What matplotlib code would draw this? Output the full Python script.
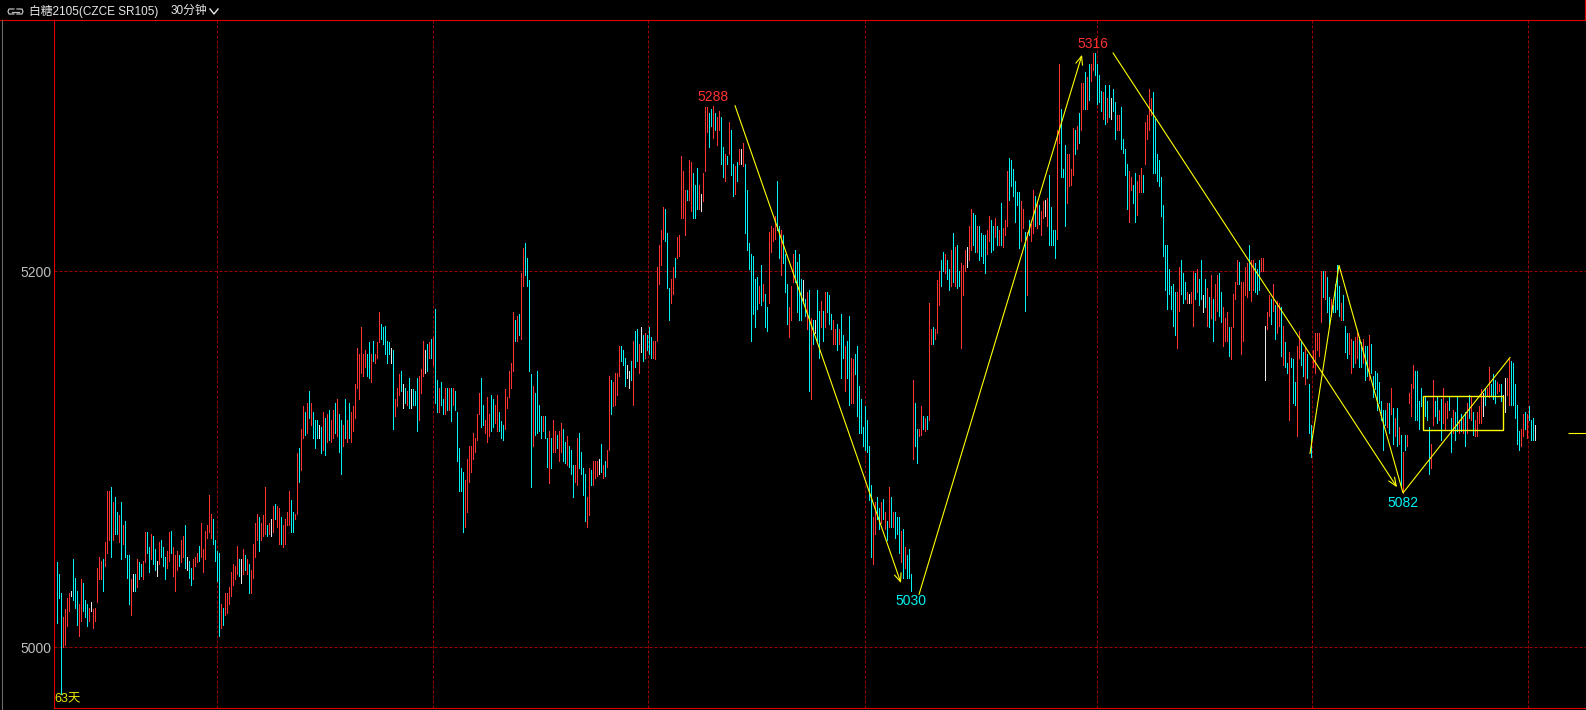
import matplotlib
matplotlib.use("Agg")
import matplotlib.pyplot as plt
from matplotlib.lines import Line2D
from matplotlib.patches import Rectangle

# ---- data: 30-minute bars of SR105 ----
high = [
    5045, 5039, 5029, 5016, 5020, 5026, 5029, 5030, 5047, 5037, 5030, 5023, 5036, 5034, 5025, 5023, 5021, 5024, 5020, 5021,
    5042, 5048, 5046, 5047, 5056, 5083, 5083, 5085, 5077, 5080, 5072, 5070, 5077, 5065, 5067, 5049, 5049, 5036, 5039, 5039,
    5047, 5045, 5044, 5046, 5061, 5061, 5053, 5060, 5059, 5052, 5046, 5056, 5057, 5053, 5048, 5051, 5061, 5062, 5053, 5049,
    5051, 5049, 5057, 5059, 5065, 5048, 5046, 5042, 5047, 5048, 5050, 5054, 5066, 5052, 5062, 5065, 5081, 5071, 5068, 5057,
    5051, 5050, 5023, 5021, 5029, 5029, 5032, 5040, 5044, 5043, 5054, 5047, 5047, 5052, 5049, 5047, 5044, 5041, 5055, 5066,
    5071, 5069, 5066, 5070, 5085, 5065, 5066, 5068, 5075, 5076, 5075, 5074, 5069, 5065, 5068, 5072, 5083, 5078, 5072, 5071,
    5103, 5106, 5116, 5128, 5125, 5130, 5136, 5130, 5125, 5121, 5121, 5118, 5117, 5125, 5122, 5124, 5126, 5121, 5126, 5130,
    5132, 5124, 5121, 5118, 5132, 5121, 5130, 5125, 5128, 5140, 5159, 5156, 5170, 5156, 5158, 5156, 5162, 5156, 5163, 5156,
    5162, 5178, 5172, 5170, 5171, 5163, 5162, 5159, 5158, 5132, 5138, 5145, 5147, 5140, 5138, 5136, 5143, 5137, 5137, 5136,
    5143, 5144, 5148, 5163, 5158, 5161, 5162, 5164, 5165, 5180, 5142, 5138, 5141, 5132, 5138, 5138, 5138, 5138, 5138, 5136,
    5125, 5106, 5095, 5093, 5089, 5100, 5107, 5107, 5114, 5111, 5124, 5135, 5143, 5129, 5121, 5133, 5124, 5134, 5132, 5129,
    5134, 5125, 5120, 5118, 5137, 5133, 5147, 5151, 5178, 5174, 5176, 5177, 5199, 5212, 5215, 5207, 5195, 5145, 5139, 5135,
    5147, 5129, 5123, 5123, 5123, 5111, 5115, 5111, 5121, 5115, 5113, 5115, 5119, 5116, 5109, 5112, 5107, 5105, 5097, 5097,
    5111, 5114, 5104, 5095, 5092, 5080, 5095, 5094, 5099, 5099, 5099, 5100, 5108, 5097, 5099, 5105, 5144, 5142, 5141, 5146,
    5146, 5160, 5160, 5158, 5154, 5150, 5147, 5152, 5163, 5168, 5169, 5161, 5170, 5166, 5167, 5166, 5170, 5165, 5163, 5163,
    5202, 5214, 5222, 5234, 5233, 5220, 5191, 5196, 5202, 5207, 5218, 5219, 5261, 5253, 5243, 5243, 5259, 5258, 5252, 5246,
    5255, 5246, 5241, 5252, 5287, 5287, 5284, 5286, 5288, 5284, 5282, 5285, 5282, 5266, 5262, 5261, 5279, 5275, 5257, 5256,
    5258, 5265, 5265, 5268, 5257, 5243, 5215, 5209, 5208, 5196, 5197, 5192, 5203, 5193, 5188, 5181, 5221, 5224, 5223, 5229,
    5248, 5224, 5222, 5219, 5209, 5193, 5181, 5192, 5209, 5211, 5205, 5209, 5196, 5195, 5185, 5189, 5190, 5175, 5174, 5174,
    5190, 5179, 5184, 5179, 5189, 5189, 5187, 5177, 5174, 5169, 5172, 5169, 5177, 5166, 5160, 5163, 5176, 5154, 5153, 5156,
    5160, 5139, 5132, 5117, 5128, 5121, 5107, 5086, 5069, 5077, 5080, 5074, 5077, 5079, 5072, 5067, 5085, 5080, 5072, 5072,
    5069, 5069, 5062, 5063, 5053, 5049, 5052, 5039, 5142, 5130, 5116, 5116, 5128, 5123, 5122, 5123, 5183, 5169, 5170, 5169,
    5195, 5200, 5206, 5210, 5209, 5206, 5201, 5211, 5220, 5213, 5214, 5200, 5204, 5203, 5211, 5213, 5224, 5233, 5231, 5230,
    5224, 5224, 5220, 5219, 5219, 5222, 5229, 5227, 5224, 5228, 5224, 5222, 5236, 5223, 5227, 5253, 5260, 5259, 5254, 5248,
    5242, 5242, 5237, 5233, 5221, 5221, 5227, 5225, 5243, 5240, 5237, 5235, 5232, 5237, 5238, 5239, 5251, 5234, 5222, 5222,
    5275, 5310, 5286, 5254, 5267, 5262, 5262, 5254, 5276, 5275, 5277, 5284, 5300, 5300, 5306, 5303, 5310, 5310, 5316, 5316,
    5310, 5304, 5296, 5295, 5299, 5292, 5299, 5292, 5297, 5290, 5283, 5283, 5287, 5270, 5265, 5257, 5253, 5250, 5246, 5252,
    5248, 5251, 5255, 5251, 5279, 5283, 5297, 5292, 5295, 5281, 5262, 5259, 5250, 5235, 5214, 5214, 5201, 5192, 5193, 5189,
    5189, 5202, 5206, 5199, 5194, 5189, 5188, 5189, 5200, 5199, 5201, 5196, 5206, 5187, 5196, 5191, 5186, 5198, 5185, 5193,
    5198, 5199, 5189, 5181, 5175, 5178, 5170, 5170, 5188, 5194, 5206, 5205, 5194, 5194, 5202, 5204, 5214, 5206, 5206, 5204,
    5201, 5206, 5207, 5207, 5171, 5178, 5187, 5185, 5193, 5182, 5184, 5183, 5181, 5171, 5162, 5151, 5157, 5154, 5153, 5141,
    5160, 5168, 5162, 5157, 5159, 5156, 5140, 5118, 5158, 5167, 5167, 5167, 5200, 5200, 5200, 5197, 5186, 5185, 5182, 5193,
    5203, 5192, 5183, 5187, 5171, 5167, 5167, 5164, 5163, 5165, 5167, 5165, 5162, 5164, 5160, 5160, 5166, 5161, 5144, 5147,
    5146, 5141, 5131, 5126, 5126, 5130, 5130, 5138, 5127, 5122, 5127, 5117, 5113, 5104, 5113, 5113, 5135, 5140, 5150, 5147,
    5147, 5131, 5138, 5133, 5133, 5131, 5117, 5108, 5142, 5131, 5133, 5126, 5132, 5138, 5130, 5131, 5133, 5122, 5126, 5125,
    5133, 5121, 5124, 5122, 5125, 5130, 5134, 5133, 5125, 5121, 5125, 5128, 5137, 5135, 5137, 5138, 5149, 5140, 5145, 5142,
    5141, 5140, 5140, 5134, 5143, 5143, 5153, 5152, 5151, 5140, 5129, 5115, 5116, 5124, 5125, 5124, 5128, 5121, 5122, 5118,
]

low = [
    5013, 5026, 4975, 5000, 5001, 5011, 5019, 5027, 5025, 5021, 5012, 5006, 5014, 5019, 5016, 5011, 5014, 5019, 5010, 5014,
    5024, 5036, 5036, 5030, 5043, 5050, 5057, 5048, 5057, 5060, 5060, 5056, 5047, 5055, 5048, 5037, 5023, 5017, 5030, 5030,
    5032, 5036, 5038, 5036, 5045, 5050, 5040, 5047, 5044, 5041, 5038, 5044, 5048, 5043, 5036, 5042, 5046, 5050, 5038, 5030,
    5041, 5043, 5045, 5048, 5042, 5041, 5037, 5033, 5036, 5043, 5045, 5046, 5048, 5040, 5047, 5058, 5061, 5058, 5055, 5046,
    5035, 5006, 5010, 5012, 5017, 5018, 5023, 5027, 5033, 5036, 5039, 5038, 5034, 5039, 5041, 5039, 5029, 5029, 5037, 5048,
    5057, 5051, 5057, 5059, 5060, 5059, 5060, 5059, 5061, 5068, 5064, 5055, 5055, 5053, 5055, 5065, 5065, 5061, 5061, 5068,
    5071, 5088, 5094, 5111, 5113, 5114, 5122, 5118, 5111, 5106, 5111, 5111, 5103, 5105, 5102, 5109, 5110, 5109, 5111, 5114,
    5112, 5104, 5092, 5107, 5111, 5109, 5111, 5109, 5115, 5122, 5138, 5132, 5146, 5144, 5149, 5144, 5143, 5141, 5152, 5151,
    5154, 5162, 5164, 5161, 5156, 5151, 5156, 5151, 5116, 5123, 5128, 5134, 5136, 5127, 5130, 5129, 5127, 5127, 5129, 5129,
    5115, 5121, 5135, 5144, 5146, 5147, 5154, 5154, 5150, 5130, 5125, 5125, 5129, 5124, 5124, 5126, 5126, 5120, 5129, 5126,
    5099, 5083, 5083, 5061, 5064, 5072, 5088, 5093, 5100, 5104, 5110, 5124, 5117, 5118, 5114, 5109, 5112, 5115, 5117, 5119,
    5115, 5115, 5111, 5110, 5116, 5127, 5133, 5138, 5147, 5163, 5163, 5166, 5164, 5192, 5198, 5192, 5147, 5085, 5107, 5113,
    5114, 5115, 5111, 5115, 5111, 5096, 5087, 5095, 5104, 5104, 5106, 5099, 5104, 5099, 5098, 5097, 5096, 5092, 5080, 5088,
    5086, 5095, 5092, 5081, 5067, 5064, 5070, 5086, 5086, 5090, 5091, 5092, 5093, 5090, 5091, 5096, 5105, 5124, 5128, 5129,
    5134, 5144, 5152, 5150, 5139, 5143, 5138, 5142, 5129, 5149, 5152, 5146, 5157, 5152, 5154, 5158, 5156, 5154, 5154, 5153,
    5163, 5193, 5203, 5217, 5216, 5191, 5174, 5183, 5188, 5197, 5207, 5208, 5228, 5228, 5219, 5238, 5238, 5232, 5228, 5228,
    5233, 5233, 5232, 5237, 5253, 5274, 5266, 5277, 5271, 5275, 5267, 5275, 5257, 5250, 5248, 5257, 5262, 5251, 5240, 5241,
    5248, 5257, 5257, 5256, 5220, 5211, 5201, 5163, 5177, 5170, 5180, 5183, 5182, 5184, 5170, 5168, 5183, 5210, 5216, 5217,
    5222, 5207, 5198, 5204, 5189, 5172, 5165, 5174, 5194, 5194, 5178, 5174, 5174, 5183, 5176, 5169, 5136, 5132, 5161, 5167,
    5163, 5154, 5170, 5163, 5170, 5178, 5172, 5169, 5161, 5161, 5158, 5161, 5143, 5154, 5136, 5143, 5129, 5130, 5130, 5145,
    5123, 5114, 5114, 5107, 5105, 5104, 5078, 5048, 5044, 5060, 5068, 5063, 5066, 5068, 5063, 5057, 5064, 5064, 5064, 5058,
    5060, 5050, 5045, 5037, 5042, 5037, 5037, 5030, 5100, 5107, 5098, 5112, 5113, 5116, 5115, 5116, 5121, 5161, 5161, 5164,
    5167, 5182, 5192, 5200, 5199, 5196, 5190, 5192, 5194, 5192, 5191, 5192, 5159, 5187, 5200, 5202, 5206, 5211, 5214, 5210,
    5210, 5206, 5208, 5204, 5199, 5209, 5216, 5210, 5211, 5218, 5214, 5214, 5214, 5213, 5219, 5224, 5238, 5245, 5240, 5226,
    5235, 5212, 5216, 5223, 5179, 5187, 5219, 5216, 5220, 5224, 5223, 5225, 5219, 5228, 5229, 5224, 5214, 5214, 5214, 5207,
    5217, 5268, 5250, 5250, 5224, 5236, 5245, 5246, 5251, 5262, 5265, 5268, 5275, 5286, 5286, 5286, 5291, 5301, 5307, 5304,
    5289, 5290, 5285, 5281, 5278, 5279, 5282, 5281, 5285, 5270, 5275, 5275, 5265, 5263, 5251, 5233, 5226, 5243, 5236, 5226,
    5230, 5242, 5242, 5242, 5257, 5270, 5275, 5283, 5252, 5252, 5248, 5245, 5229, 5208, 5190, 5180, 5188, 5180, 5171, 5166,
    5159, 5179, 5188, 5183, 5185, 5183, 5183, 5183, 5171, 5185, 5189, 5182, 5185, 5178, 5181, 5171, 5170, 5175, 5163, 5174,
    5179, 5176, 5173, 5160, 5163, 5163, 5155, 5153, 5170, 5185, 5193, 5193, 5156, 5163, 5187, 5186, 5190, 5184, 5190, 5189,
    5188, 5190, 5200, 5200, 5142, 5169, 5176, 5172, 5179, 5164, 5167, 5171, 5155, 5150, 5149, 5146, 5121, 5149, 5130, 5129,
    5112, 5154, 5150, 5144, 5140, 5143, 5114, 5101, 5149, 5146, 5158, 5155, 5173, 5186, 5185, 5178, 5172, 5176, 5178, 5178,
    5180, 5176, 5174, 5174, 5157, 5154, 5156, 5146, 5149, 5151, 5154, 5149, 5149, 5151, 5142, 5144, 5142, 5146, 5133, 5137,
    5126, 5130, 5121, 5105, 5118, 5117, 5114, 5124, 5108, 5112, 5107, 5108, 5085, 5082, 5105, 5107, 5130, 5123, 5138, 5121,
    5121, 5116, 5128, 5117, 5123, 5121, 5092, 5095, 5118, 5123, 5119, 5121, 5110, 5119, 5116, 5122, 5126, 5104, 5114, 5110,
    5115, 5114, 5115, 5114, 5107, 5114, 5122, 5121, 5113, 5112, 5112, 5119, 5119, 5123, 5129, 5134, 5133, 5134, 5132, 5130,
    5135, 5136, 5131, 5125, 5125, 5134, 5129, 5129, 5129, 5122, 5108, 5105, 5107, 5112, 5116, 5111, 5121, 5110, 5110, 5110,
]

# u = close above open, d = close below open, f = unchanged (20 bars per chunk)
direction = (
    "ddduuuufddduudddufuu" "uuuduuududdududddufd" "udduudduddfuddduuduu" "uduudfdduuuduuuuuudd"
    "dduduuuuuuudfududuuu" "uduuudufuduuduuuuddu" "uduudududddfdududuud" "uddududuuuuuuuuddudu"
    "uudddddfduuudfdudfdd" "duuufdududduddududud" "dddduuuuuuuudduuuddu" "uddduuuuududuuddddud"
    "dddudduduuduuddudddu" "udddduuduuufduduuduu" "uudddffduddufduddduu" "uuuuddduuduuuuuduudd"
    "dufuuudduduuddududdu" "dufudddddddududduuuu" "dduddduuuddddfdududf" "ddududdduududdudduud"
    "dddddddduuddudududud" "ddududddudduududuudu" "uudduddududduuufuudd" "udddduuddududuuudddd"
    "dduududuududuufudddd" "uuddduuuududuududuud" "dddududfdduudddduudd" "uuuduuuudddddddddddd"
    "uudddufuududdfdududu" "udduuuduuuuduuuuduud" "dduufuududuududduddd" "uudduddduuuuududdudd"
    "dduddduuduudduddu" "ddd" "dddddudududududuuuud" "ddddddduudduduuuddud" "dududududuuuufduuddd"
    "uudffuuddddduududddf"
)

# swing points that carry a price label: (bar index, 'high' / 'low')
pivots = [(328, "high"), (427, "low"), (518, "high"), (673, "low")]

# hand-drawn study lines, anchored at (bar index, price)
trend_arrows = [((339, 5288), (422, 5034)), ((431, 5028), (512.5, 5315)), ((528, 5316), (670, 5085))]
zigzag_bar = [626.5, 641, 673, 726.5]
zigzag_price = [5103, 5203, 5082, 5154]
box_bars = (683, 723)
box_prices = (5115.5, 5133.5)
last_price = 5114

y_ticks = [5000, 5200]
day_breaks = [80, 188, 295.5, 404, 520, 627.5, 735.5]

title = "白糖2105(CZCE SR105)"
period = "30分钟"
span = "63天"

# ---- styling ----
W, H = 1586, 710
RED = "#FF3232"
CYAN = "#00F2F2"
WHITE = "#E6E6E6"
FRAME = "#E00000"
GRID = "#A00000"
YEL = "#FFFF00"
bar_colors = {"u": RED, "d": CYAN, "f": WHITE}
MIXED = ["Liberation Sans", "Noto Sans CJK SC", "DejaVu Sans"]
plt.rcParams["font.family"] = ["Liberation Sans", "DejaVu Sans"]

fig = plt.figure(figsize=(W / 100, H / 100), dpi=100, facecolor="black")
ax = fig.add_axes([54 / W, 2 / H, 1 - 54 / W, 688 / H], facecolor="black")
ax.set_xlim(-1.5, 764.5)
ax.set_ylim(4967.6, 5333.5)


def fx(px):
    return px / W


def fy(py):
    return 1 - py / H


# grid
for p in y_ticks:
    ax.axhline(p, color=GRID, lw=0.72, ls=(0, (3, 2)), zorder=1)
for b in day_breaks:
    ax.axvline(b, color=GRID, lw=0.72, ls=(0, (3, 2)), zorder=1)

# bars (too dense for bodies: each bar is a 1px high-low stroke)
ax.vlines(range(len(high)), low, high, colors=[bar_colors[c] for c in direction],
          lw=0.72, antialiased=False, snap=True, zorder=3)

# labels at swing points
for i, kind in pivots:
    if kind == "high":
        ax.annotate(str(high[i]), xy=(i, high[i]), xytext=(0, 2), textcoords="offset pixels",
                    ha="center", va="bottom", color=RED, fontsize=10)
    else:
        ax.annotate(str(low[i]), xy=(i, low[i]), xytext=(0, -3), textcoords="offset pixels",
                    ha="center", va="top", color=CYAN, fontsize=10)

# study lines
for start, end in trend_arrows:
    ax.annotate("", xy=end, xytext=start,
                arrowprops=dict(arrowstyle="->,head_length=0.6,head_width=0.25", color=YEL,
                                lw=0.8, shrinkA=0, shrinkB=0), zorder=4)
ax.plot(zigzag_bar, zigzag_price, color=YEL, lw=0.8, zorder=4)
ax.add_patch(Rectangle((box_bars[0], box_prices[0]), box_bars[1] - box_bars[0],
                       box_prices[1] - box_prices[0], fill=False, edgecolor=YEL, lw=1.0, zorder=4))
ax.hlines(last_price, 755.5, 764.5, color=YEL, lw=0.8, zorder=4)

# axes frame / ticks
for s in ["top", "right"]:
    ax.spines[s].set_visible(False)
for s in ["left", "bottom"]:
    ax.spines[s].set_color(FRAME)
    ax.spines[s].set_linewidth(0.8)
ax.set_xticks([])
ax.set_yticks(y_ticks)
ax.set_yticklabels([str(t) for t in y_ticks])
ax.tick_params(axis="y", length=0, pad=2, labelcolor="#BDBDBD", labelsize=10)

# window chrome
fig.add_artist(Line2D([0, 1], [fy(20), fy(20)], color=FRAME, lw=0.8, transform=fig.transFigure))
fig.add_artist(Line2D([fx(1585), fx(1585)], [fy(0), fy(20)], color=FRAME, lw=0.8, transform=fig.transFigure))
fig.add_artist(Line2D([fx(2), fx(2)], [fy(20), fy(710)], color="#6A6A6A", lw=0.8, transform=fig.transFigure))
# link icon
for xs, ys in [([14, 9, 8, 9, 14], [9, 9, 11.5, 14, 14]),
               ([17, 22, 23, 22, 17], [9, 9, 11.5, 14, 14]),
               ([12, 19], [11.5, 11.5])]:
    fig.add_artist(Line2D([fx(v) for v in xs], [fy(v) for v in ys], color="#BEBEBE", lw=0.9,
                          transform=fig.transFigure))

# header: title, then the period selector placed after the measured title width
t1 = fig.text(fx(29), fy(11), title, color="#E8E8E8", fontsize=8.5, family=MIXED, ha="left", va="center")
renderer = fig.canvas.get_renderer()
x_end = t1.get_window_extent(renderer).x1
x_period = max(160, x_end + 12)
t2 = fig.text(fx(x_period), fy(11), period, color="#E8E8E8", fontsize=8.5, family=MIXED,
              ha="left", va="center")
x_chev = t2.get_window_extent(renderer).x1 + 3
fig.add_artist(Line2D([fx(x_chev), fx(x_chev + 4), fx(x_chev + 8)], [fy(9), fy(14), fy(9)],
                      color="#E8E8E8", lw=1.0, transform=fig.transFigure))
fig.text(fx(54), fy(699), span, color="#E6E600", fontsize=9, family=MIXED, ha="left", va="center")

fig.savefig("out.png", dpi=100, facecolor="black")
